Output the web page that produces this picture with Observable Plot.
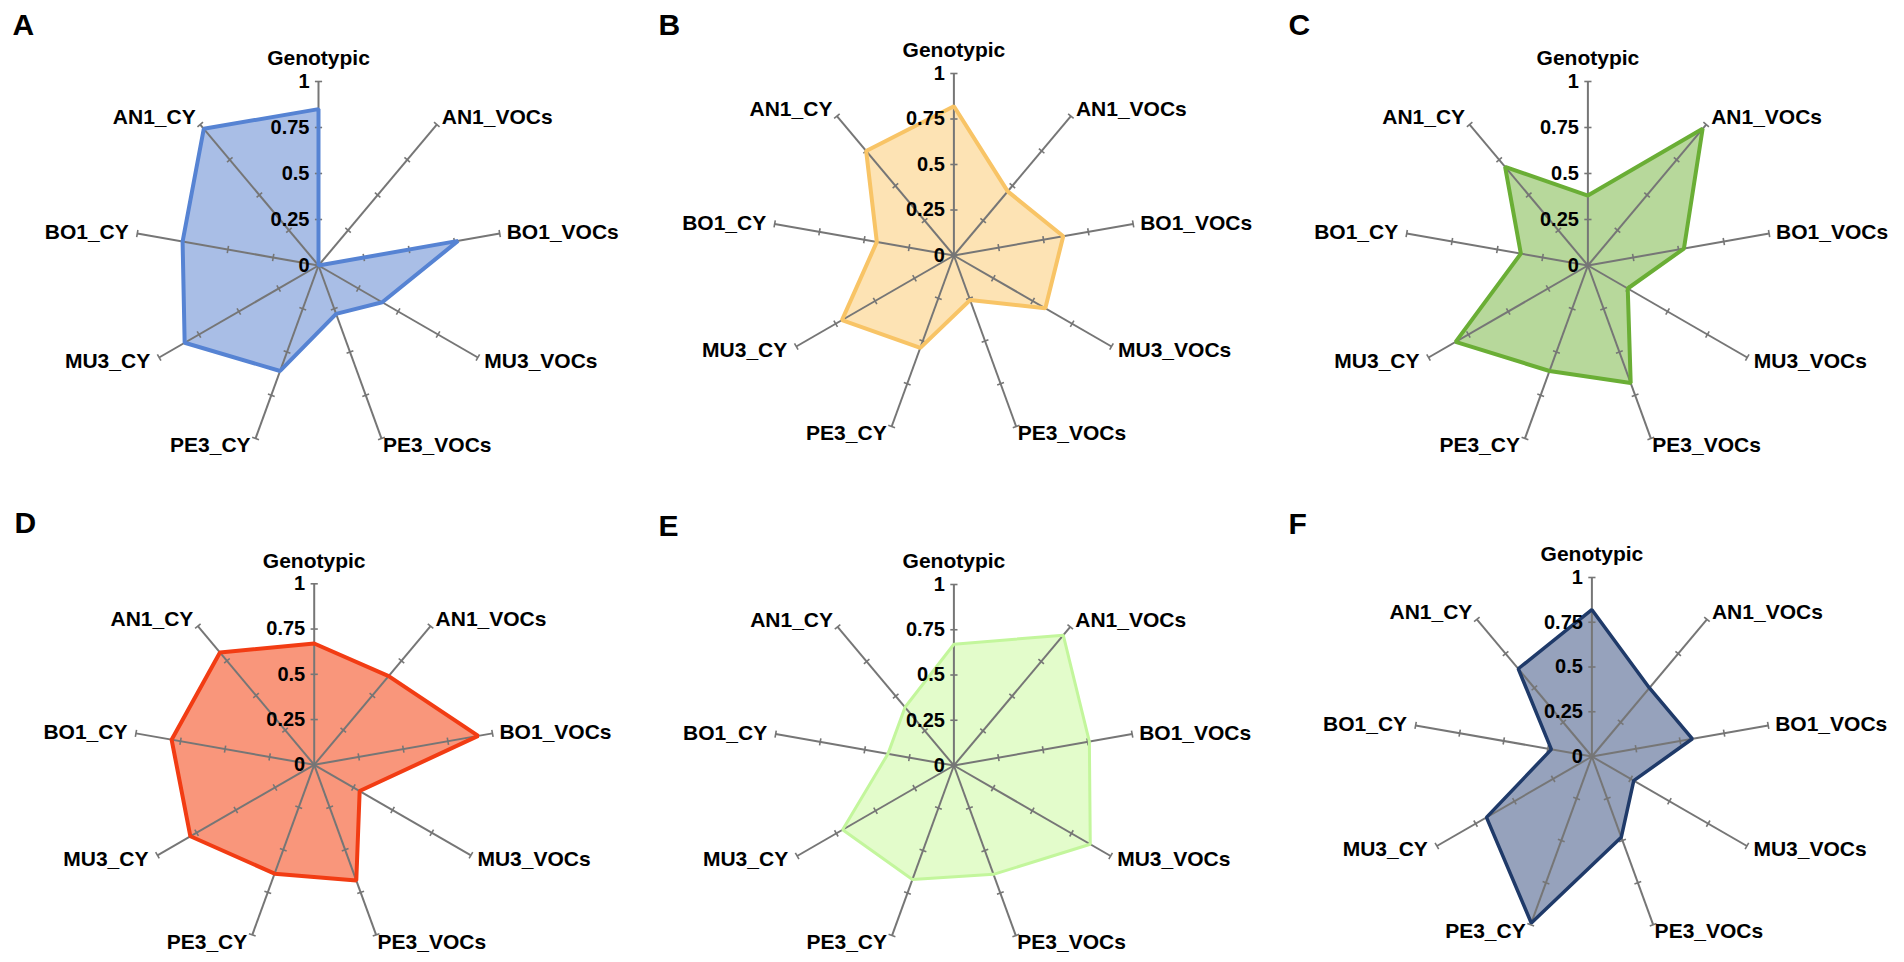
<!DOCTYPE html>
<html><head><meta charset="utf-8">
<script src="https://cdn.jsdelivr.net/npm/d3@7"></script>
<script src="https://cdn.jsdelivr.net/npm/@observablehq/plot@0.6"></script>
<style>
html,body{margin:0;padding:0;background:#fff;}
#root{position:relative;width:1904px;height:962px;overflow:hidden;background:#fff;}
.panel{position:absolute;}
</style></head><body><div id="root"></div>
<script>
// ---- data ----
const axes = ["Genotypic","AN1_VOCs","BO1_VOCs","MU3_VOCs","PE3_VOCs","PE3_CY","MU3_CY","BO1_CY","AN1_CY"];
const panelLetters = ["A","B","C","D","E","F"];
const valuesA = [0.85, 0.00, 0.77, 0.40, 0.28, 0.61, 0.84, 0.75, 0.97];
const valuesB = [0.82, 0.46, 0.61, 0.58, 0.26, 0.54, 0.71, 0.43, 0.75];
const valuesC = [0.38, 0.97, 0.53, 0.25, 0.68, 0.61, 0.83, 0.37, 0.70];
const valuesD = [0.67, 0.64, 0.92, 0.29, 0.68, 0.64, 0.79, 0.80, 0.81];
const valuesE = [0.67, 0.94, 0.76, 0.87, 0.64, 0.67, 0.71, 0.37, 0.42];
const valuesF = [0.82, 0.50, 0.57, 0.27, 0.48, 0.99, 0.68, 0.23, 0.64];
const tickValues = [0, 0.25, 0.5, 0.75, 1];
const tickLabels = ["0", "0.25", "0.5", "0.75", "1"];

// ---- layout / style ----
const series = [valuesA, valuesB, valuesC, valuesD, valuesE, valuesF];
const panelLayout = [
  {left:0,    top:0,   width:634, height:481, cx:318,   cy:265,   r:184, fill:"#a9bee6", stroke:"#5683d3", sw:4},
  {left:634,  top:0,   width:634, height:481, cx:319.4, cy:255,   r:182, fill:"#fde3b4", stroke:"#f8c466", sw:4},
  {left:1268, top:0,   width:636, height:481, cx:319.4, cy:265,   r:184, fill:"#b7d89b", stroke:"#6aae35", sw:4},
  {left:0,    top:481, width:634, height:481, cx:313.7, cy:283.3, r:181, fill:"#f9967b", stroke:"#f23c13", sw:4},
  {left:634,  top:481, width:634, height:481, cx:319.4, cy:284,   r:181, fill:"#e3fccb", stroke:"#c3f69c", sw:3},
  {left:1268, top:481, width:636, height:481, cx:323.4, cy:275,   r:179, fill:"#96a2bc", stroke:"#1f3a69", sw:3.5}
];
const letterPos = [{dx:12, dy:13},{dx:24, dy:13},{dx:20, dy:13},{dx:14, dy:30},{dx:24, dy:33},{dx:20, dy:31}];
const labelStyle = [
  {anchor:"middle", dx:0,    dy:-23},
  {anchor:"start",  dx:5,    dy:-7},
  {anchor:"start",  dx:7,    dy:-1},
  {anchor:"start",  dx:6.5,  dy:3.5},
  {anchor:"start",  dx:1.5,  dy:7},
  {anchor:"end",    dx:-5,   dy:7},
  {anchor:"end",    dx:-9,   dy:3.5},
  {anchor:"end",    dx:-8.5, dy:-1},
  {anchor:"end",    dx:-4.5, dy:-7}
];
const FONT = "Liberation Sans, Arial, Helvetica, sans-serif";
const AXIS_COLOR = "#767676";
const N = axes.length;
const ang = i => Math.PI / 2 - i * 2 * Math.PI / N;

const root = document.getElementById("root");

series.forEach((vals, k) => {
  const L = panelLayout[k];
  const poly = axes.map((a, i) => ({axis: a, v: vals[i], x: vals[i] * Math.cos(ang(i)), y: vals[i] * Math.sin(ang(i))}));
  const axisLines = axes.map((a, i) => ({axis: a, x2: Math.cos(ang(i)), y2: Math.sin(ang(i))}));
  const half = 3.6 / L.r;
  const tickSegs = [];
  axes.forEach((a, i) => {
    const c = Math.cos(ang(i)), s = Math.sin(ang(i));
    tickValues.filter(t => t > 0).forEach(t => {
      tickSegs.push({x1: t * c - s * half, y1: t * s + c * half, x2: t * c + s * half, y2: t * s - c * half});
    });
  });
  const tickText = tickValues.map((t, j) => ({v: t, label: tickLabels[j], dy: t === 1 ? 1 : 0}));

  const labelMarks = axes.map((a, i) => Plot.text([{axis: a}], {
    x: () => Math.cos(ang(i)), y: () => Math.sin(ang(i)), text: d => d.axis,
    textAnchor: labelStyle[i].anchor, dx: labelStyle[i].dx, dy: labelStyle[i].dy,
    fontFamily: FONT, fontWeight: "bold", fontSize: 21, fill: "#000"
  }));

  const chart = Plot.plot({
    width: L.width, height: L.height,
    margin: 0,
    x: {domain: [-L.cx / L.r, (L.width - L.cx) / L.r], axis: null},
    y: {domain: [-(L.height - L.cy) / L.r, L.cy / L.r], axis: null},
    style: {background: "transparent", overflow: "visible"},
    marks: [
      Plot.line(poly, {x: "x", y: "y", curve: "linear-closed", fill: L.fill, stroke: "none"}),
      Plot.link(axisLines, {x1: () => 0, y1: () => 0, x2: "x2", y2: "y2", stroke: AXIS_COLOR, strokeWidth: 2}),
      Plot.link(tickSegs, {x1: "x1", y1: "y1", x2: "x2", y2: "y2", stroke: AXIS_COLOR, strokeWidth: 1.6}),
      Plot.line(poly, {x: "x", y: "y", curve: "linear-closed", fill: "none", stroke: L.stroke, strokeWidth: L.sw, strokeLinejoin: "miter"}),
      Plot.text(tickText, {x: () => 0, y: "v", text: "label", textAnchor: "end", dx: -9, lineAnchor: "middle",
        fontFamily: FONT, fontWeight: "bold", fontSize: 20, fill: "#000"}),
      ...labelMarks,
      Plot.text([panelLetters[k]], {frameAnchor: "top-left", text: d => d, textAnchor: "start", lineAnchor: "top",
        dx: letterPos[k].dx, dy: letterPos[k].dy, fontFamily: FONT, fontWeight: "bold", fontSize: 30, fill: "#000"})
    ]
  });
  const div = document.createElement("div");
  div.className = "panel";
  div.style.left = L.left + "px";
  div.style.top = L.top + "px";
  div.style.width = L.width + "px";
  div.style.height = L.height + "px";
  div.appendChild(chart);
  root.appendChild(div);
});
</script>
</body></html>
